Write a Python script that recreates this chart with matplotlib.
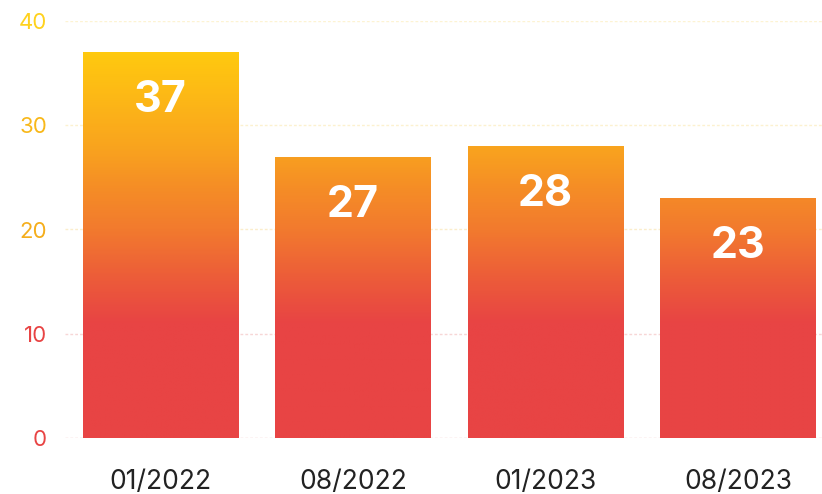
import matplotlib.pyplot as plt
import numpy as np
from matplotlib.colors import LinearSegmentedColormap, Normalize

# datos
periodos = ["01/2022", "08/2022", "01/2023", "08/2023"]
valores = [37, 27, 28, 23]
ticks_y = [0, 10, 20, 30, 40]
colores_ticks = ["#E84444", "#E84444", "#F5AE1C", "#F8B81A", "#FFD21E"]
colores_grid = ["#F2C4C4", "#F7D6D6", "#FBEDCB", "#FCF1CF", "#FDF3D2"]

# degradado segun el valor del eje y
paradas = [(0, "#E84444"), (11, "#E84444"), (15, "#EC5A3A"), (20, "#F27A2E"),
           (24, "#F58D26"), (28, "#F9A41E"), (33, "#FDB916"), (37, "#FFC90F"),
           (40, "#FFD00C")]
cmap = LinearSegmentedColormap.from_list(
    "rojo_amarillo", [(v / 40, c) for v, c in paradas])
norma = Normalize(0, 40)

plt.rcParams['font.family'] = ['Inter', 'DejaVu Sans']

fig = plt.figure(figsize=(8.22, 4.94), dpi=100)
ax = fig.add_axes([65 / 822, 1 - 438 / 494, 1 - 65 / 822, 417 / 494])

x = np.arange(len(periodos))
barras = ax.bar(x, valores, width=0.81, color="none", edgecolor="none", zorder=2)

for barra, v in zip(barras, valores):
    x0 = barra.get_x()
    x1 = x0 + barra.get_width()
    grad = np.linspace(0, v, 300).reshape(-1, 1)
    img = ax.imshow(grad, cmap=cmap, norm=norma, origin="lower", aspect="auto",
                    extent=[x0, x1, 0, v], zorder=2, interpolation="bilinear")
    img.set_clip_path(barra)
    ax.annotate(str(v), (barra.get_x() + barra.get_width() / 2, v),
                xytext=(0, -44), textcoords="offset pixels",
                ha="center", va="center_baseline", color="white",
                fontsize=31, fontweight="bold", zorder=3)

# lineas de la cuadricula
for t, c in zip(ticks_y, colores_grid):
    ax.axhline(t, color=c, lw=1.0, ls=(0, (2, 1.5)), zorder=1)

ax.set_xlim(-0.496, 3.436)
ax.set_ylim(0, 40)
ax.set_yticks(ticks_y)
ax.set_yticklabels([str(t) for t in ticks_y], fontsize=16)
for lab, c in zip(ax.get_yticklabels(), colores_ticks):
    lab.set_color(c)
ax.set_xticks(x)
ax.set_xticklabels(periodos, fontsize=19, color="#222222")
ax.tick_params(axis="y", length=0, pad=13)
ax.tick_params(axis="x", length=0, pad=22)
for s in ax.spines.values():
    s.set_visible(False)

plt.savefig("out.png", dpi=100)
plt.close(fig)
